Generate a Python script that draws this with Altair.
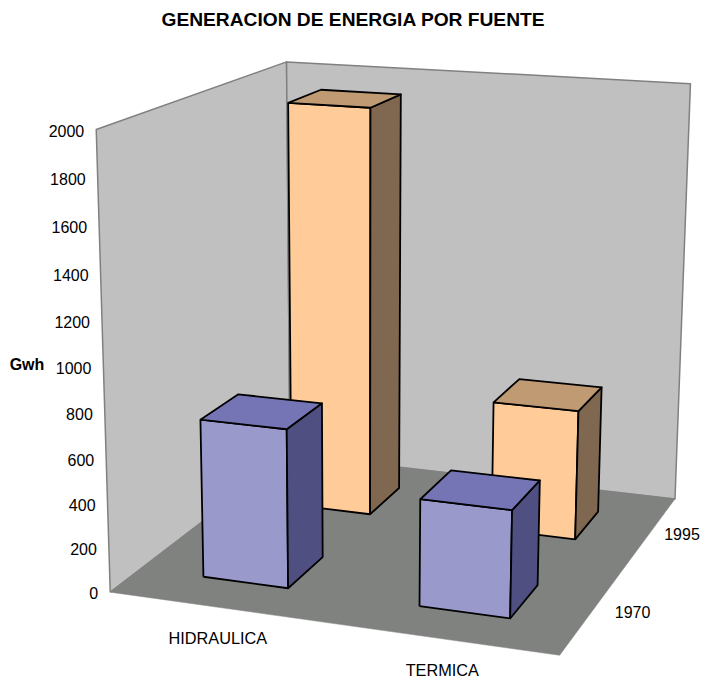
import numpy as np
import pandas as pd
import altair as alt

categories = ["HIDRAULICA", "TERMICA"]
years = ["1970", "1995"]
values_1970 = [715, 475]
values_1995 = [1925, 610]
y_ticks = [0, 200, 400, 600, 800, 1000, 1200, 1400, 1600, 1800, 2000]
title_text = "GENERACION DE ENERGIA POR FUENTE"
y_title = "Gwh"
Y_MAX = 2000

# Camera of the 3-D box: (category pos, value/Y_MAX, series pos, 1) -> screen
CAMERA = np.array([[411.6771, -19.0838, 233.9468, 110.2321],
                   [19.002, -469.4251, -52.4642, 592.1262],
                   [-0.0674, -0.0527, 0.1872, 1.0]])
BAR = 0.2  # bar width as a share of the axis length (gap width 150 %)
FONT = "Liberation Sans"
COL = {
    "1970": {"front": "#9999CC", "top": "#7575B6", "side": "#4F4F82"},
    "1995": {"front": "#FFCC99", "top": "#BF9A73", "side": "#806750"},
}


def proj(x, v, z):
    r = CAMERA @ np.array([x, v / Y_MAX, z, 1.0])
    return r[0] / r[2], r[1] / r[2]


rows = []


def face(name, pts, fill, stroke, sw):
    closed = list(pts) + [pts[0]]
    for i, (x, v, z) in enumerate(closed):
        px, py = proj(x, v, z)
        rows.append(dict(poly=name, seq=i, px=px, py=py, fill=fill, stroke=stroke, sw=sw))


M = Y_MAX
face("wall_left", [(0, 0, 0), (0, M, 0), (0, M, 1), (0, 0, 1)], "#C0C0C0", "#808080", 1.5)
face("wall_back", [(0, 0, 1), (0, M, 1), (1, M, 1), (1, 0, 1)], "#C0C0C0", "#808080", 1.5)
face("floor", [(0, 0, 0), (1, 0, 0), (1, 0, 1), (0, 0, 1)], "#808280", "#808280", 0.5)


def bar(name, ci, si, v, year):
    x0 = (ci + 0.5) / 2 - BAR / 2
    x1 = x0 + BAR
    z0 = (si + 0.5) / 2 - BAR / 2
    z1 = z0 + BAR
    c = COL[year]
    face(name + "_front", [(x0, 0, z0), (x1, 0, z0), (x1, v, z0), (x0, v, z0)], c["front"], "#000000", 1.8)
    face(name + "_side", [(x1, 0, z0), (x1, 0, z1), (x1, v, z1), (x1, v, z0)], c["side"], "#000000", 1.8)
    face(name + "_top", [(x0, v, z0), (x1, v, z0), (x1, v, z1), (x0, v, z1)], c["top"], "#000000", 1.8)


for ci, cat in enumerate(categories):
    bar(cat + "95", ci, 1, values_1995[ci], "1995")
for ci, cat in enumerate(categories):
    bar(cat + "70", ci, 0, values_1970[ci], "1970")

polys = pd.DataFrame(rows)

labels = []
for t in y_ticks:
    px, py = proj(0, t, 0)
    labels.append(dict(text=str(t), px=px - 12, py=py + 2, align="right", size=16, weight="normal"))
for ci, cat in enumerate(categories):
    px, py = proj((ci + 0.5) / 2, 0, 0)
    labels.append(dict(text=cat, px=px + 1, py=py + 32, align="center", size=16.3, weight="normal"))
for si, yr in enumerate(years):
    px, py = proj(1, 0, (si + 0.5) / 2)
    labels.append(dict(text=yr, px=min(px + 40, 682), py=py + 2, align="center", size=16, weight="normal"))
labels.append(dict(text=title_text, px=353, py=20, align="center", size=19.2, weight="bold"))
labels.append(dict(text=y_title, px=27, py=364.5, align="center", size=16, weight="bold"))
labels = pd.DataFrame(labels)

xs = alt.Scale(domain=[8, 700], range=[0, 692])
ys = alt.Scale(domain=[8, 679], range=[0, 671])

base = alt.Chart(polys).mark_line(strokeJoin="round", interpolate="linear", clip=False).encode(
    x=alt.X("px:Q", scale=xs, axis=None),
    y=alt.Y("py:Q", scale=ys, axis=None),
    order="seq:Q",
    detail="poly:N",
    fill=alt.Fill("fill:N", scale=None),
    stroke=alt.Stroke("stroke:N", scale=None),
    strokeWidth=alt.StrokeWidth("sw:Q", scale=None),
)

txt_layers = []
for w in ["normal", "bold"]:
    for al in ["center", "right"]:
        s2 = labels[(labels["align"] == al) & (labels["weight"] == w)]
        for sz in sorted(s2["size"].unique()):
            s3 = s2[s2["size"] == sz]
            txt_layers.append(
                alt.Chart(s3).mark_text(align=al, baseline="middle", font=FONT, fontSize=float(sz),
                                        fontWeight=w, color="#000000").encode(
                    x=alt.X("px:Q", scale=xs, axis=None),
                    y=alt.Y("py:Q", scale=ys, axis=None),
                    text="text:N",
                )
            )

chart = alt.layer(base, *txt_layers).properties(
    width=692, height=671, padding=0, autosize=alt.AutoSizeParams(type="none"),
).configure_view(stroke=None)

chart.save("out.html", embed_options={"renderer": "svg", "actions": False})
